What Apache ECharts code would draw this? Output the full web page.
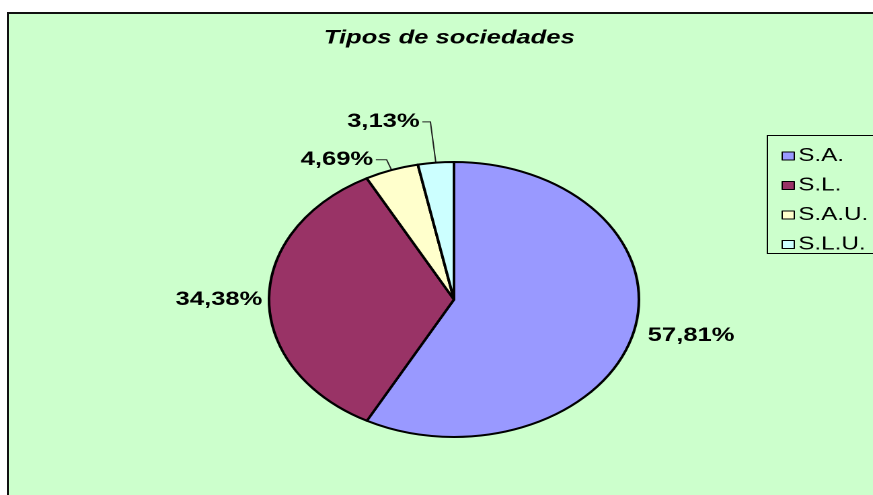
<!DOCTYPE html>
<html>
<head>
<meta charset="utf-8">
<script src="https://cdn.jsdelivr.net/npm/echarts@6/dist/echarts.min.js"></script>
<style>
  html, body { margin: 0; padding: 0; background: #ffffff; overflow: hidden; width: 873px; height: 495px; }
  #frame { position: absolute; left: 7px; top: 12px; width: 900px; height: 520px;
           background: #CCFFCC; border-left: 2px solid #111; border-top: 2px solid #111; }
  #chart { position: absolute; left: 0; top: 0; width: 800px; height: 495px;
           transform: scaleX(1.3451); transform-origin: 0 0; }
</style>
</head>
<body>
<div id="frame"></div>
<div id="chart"></div>
<script>
const titleText = 'Tipos de sociedades';
const categories = ['S.A.', 'S.L.', 'S.A.U.', 'S.L.U.'];
const values = [57.81, 34.38, 4.69, 3.13];
const colors = ['#9999FF', '#993366', '#FFFFCC', '#CCFFFF'];

// label leader settings per slice (layout only)
const leader = [
  { show: false, length: 11, length2: 0, gap: 0 },
  { show: false, length: 3, length2: 0, gap: 2 },
  { show: true, length: 11, length2: 8, gap: 2 },
  { show: true, length: 41, length2: 6, gap: 2 }
];

const fmt = v => v.toFixed(2).replace('.', ',') + '%';

const chart = echarts.init(document.getElementById('chart'), null, { devicePixelRatio: 2 });
const option = {
  animation: false,
  backgroundColor: 'transparent',
  title: {
    text: titleText,
    left: 334,
    top: 29,
    padding: 0,
    textAlign: 'center',
    textStyle: { fontFamily: 'Arial, "Liberation Sans", sans-serif', fontSize: 19, fontWeight: 'bold', fontStyle: 'italic', color: '#000' }
  },
  graphic: [{
    type: 'rect',
    left: 570,
    top: 135,
    silent: true,
    shape: { width: 200, height: 118 },
    style: { fill: 'transparent', stroke: '#000', lineWidth: 1 }
  }],
  legend: {
    orient: 'vertical',
    left: 570,
    top: 137,
    padding: [10, 0, 1, 11],
    itemGap: 11.5,
    itemWidth: 9,
    itemHeight: 8,
    icon: 'rect',
    borderWidth: 0,
    backgroundColor: 'transparent',
    itemStyle: { borderColor: '#000', borderWidth: 1 },
    textStyle: { fontFamily: 'Arial, "Liberation Sans", sans-serif', fontSize: 18, color: '#000', lineHeight: 17, padding: [0, 0, 0, -2] },
    data: categories
  },
  series: [{
    type: 'pie',
    center: [337.5, 299.5],
    radius: 137.5,
    startAngle: 90,
    clockwise: true,
    avoidLabelOverlap: false,
    silent: true,
    itemStyle: { borderColor: '#000', borderWidth: 2 },
    label: {
      show: true,
      position: 'outside',
      distanceToLabelLine: 2,
      fontFamily: 'Arial, "Liberation Sans", sans-serif',
      fontSize: 19,
      fontWeight: 'bold',
      color: '#000',
      formatter: p => fmt(p.value)
    },
    labelLine: { lineStyle: { color: '#222', width: 1 } },
    data: categories.map((c, i) => ({
      name: c,
      value: values[i],
      itemStyle: { color: colors[i] },
      label: { distanceToLabelLine: leader[i].gap },
      labelLine: { show: leader[i].show, length: leader[i].length, length2: leader[i].length2, smooth: false }
    }))
  }]
};
chart.setOption(option);
</script>
</body>
</html>
